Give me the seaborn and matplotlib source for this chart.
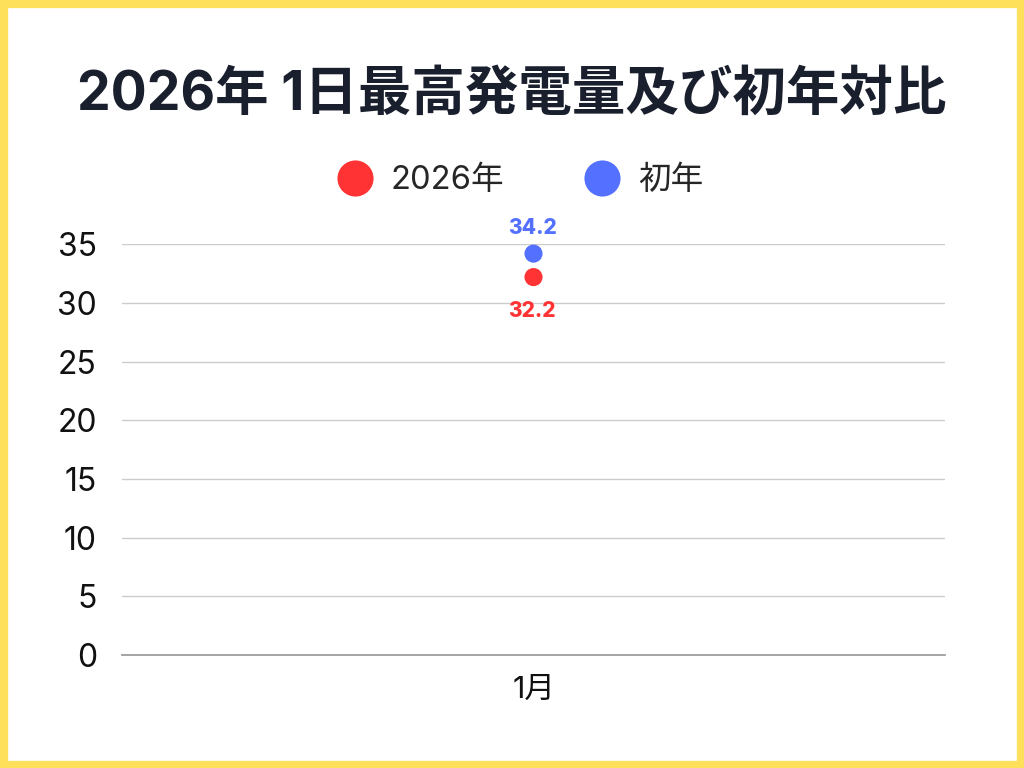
import pandas as pd
import matplotlib.pyplot as plt
import seaborn as sns
from matplotlib.lines import Line2D
from matplotlib.patches import Rectangle

# data
months = ['1月']
series_names = ['2026年', '初年']
vals_2026 = [32.2]
vals_first = [34.2]
colors = ['#FF3333', '#5470FF']

df = pd.DataFrame({
    'month': months * 2,
    'value': vals_2026 + vals_first,
    'series': [series_names[0]] * len(months) + [series_names[1]] * len(months),
})

sns.set_theme(style='white')
plt.rcParams['font.family'] = ['Inter', 'Noto Sans CJK JP', 'DejaVu Sans']

fig = plt.figure(figsize=(10.24, 7.68), dpi=100)
fig.patches.append(Rectangle((0, 0), 1, 1, transform=fig.transFigure,
                             fill=False, edgecolor='#FFE05A', linewidth=11))
ax = fig.add_axes([0.119, 0.147, 0.804, 0.535])

sns.scatterplot(data=df, x='month', y='value', hue='series', palette=colors,
                s=170, edgecolor='none', legend=False, ax=ax, clip_on=False, zorder=3)

ax.set_ylim(0, 35)
ax.set_xlim(-0.5, 0.5)
ax.set_yticks(range(0, 36, 5))
ax.grid(axis='y', color='#CCCCCC', linewidth=1)
for s in ['top', 'right', 'left']:
    ax.spines[s].set_visible(False)
ax.spines['bottom'].set_color('#999999')
ax.tick_params(axis='y', labelsize=23, pad=18, length=0, colors='#111111')
ax.tick_params(axis='x', labelsize=22, pad=15, length=0, colors='#111111')
ax.set_xlabel('')
ax.set_ylabel('')

# value labels
for i, m in enumerate(months):
    ax.annotate(f'{vals_first[i]}', (i, vals_first[i]), xytext=(-1, 11), textcoords='offset points',
                ha='center', va='bottom', fontsize=15, fontweight='heavy', color=colors[1])
    ax.annotate(f'{vals_2026[i]}', (i, vals_2026[i]), xytext=(-1, -17), textcoords='offset points',
                ha='center', va='top', fontsize=15, fontweight='heavy', color=colors[0])

handles = [Line2D([], [], marker='o', linestyle='', markersize=26, color=c, markeredgewidth=0)
           for c in colors]
fig.legend(handles, series_names, loc='center', bbox_to_anchor=(0.507, 0.765), ncol=2,
           frameon=False, fontsize=23.5, handletextpad=0.5, columnspacing=2.4, handlelength=1.2)

fig.text(0.5, 0.876, '2026年 1日最高発電量及び初年対比', ha='center', va='center',
         fontsize=38.5, fontweight='bold', color='#1A1F2E')

fig.savefig('out.png', dpi=100)
